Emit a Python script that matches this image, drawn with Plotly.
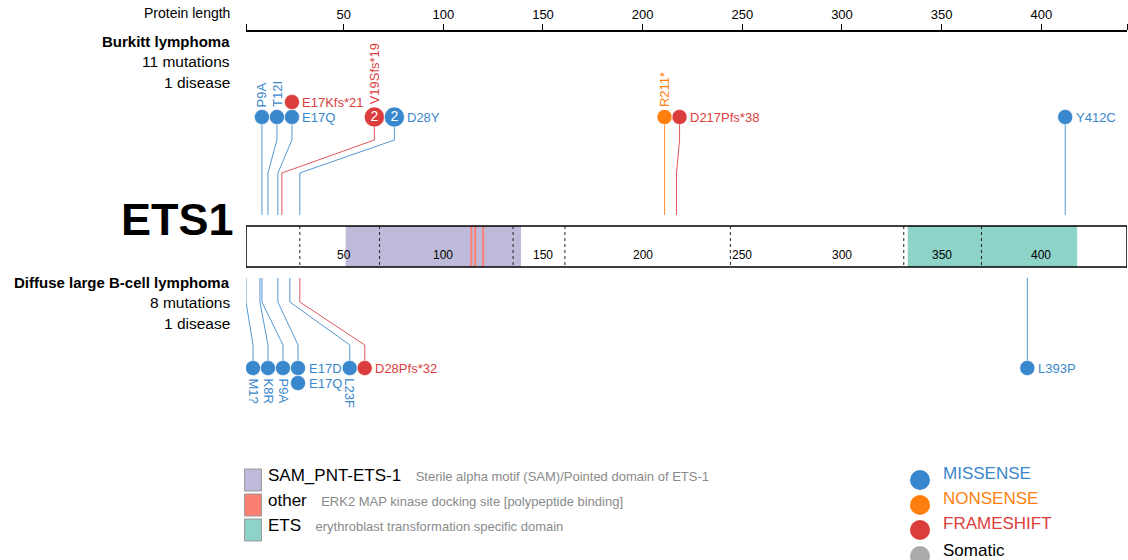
import plotly.graph_objects as go

# ---------------- data ----------------
gene = "ETS1"
protein_length = 441
axis_ticks = [50, 100, 150, 200, 250, 300, 350, 400]

domain_names = ["SAM_PNT-ETS-1", "other", "ETS"]
domain_descriptions = [
    "Sterile alpha motif (SAM)/Pointed domain of ETS-1",
    "ERK2 MAP kinase docking site [polypeptide binding]",
    "erythroblast transformation specific domain",
]
domain_colors = ["#bebada", "#fb8072", "#8dd3c7"]
sam_range = [51, 139]
erk2_sites = [114, 116, 120]
ets_range = [333, 418]
exon_boundaries = [28, 68, 135, 161, 244, 331, 370]

class_names = ["MISSENSE", "NONSENSE", "FRAMESHIFT"]
class_colors = ["#3987CC", "#FF7F0E", "#DB3D3D"]
origin_names = ["Somatic"]
origin_colors = ["#aaaaaa"]

bl_title = "Burkitt lymphoma"
bl_summary = ["11 mutations", "1 disease"]
bl_labels = ["P9A", "T12I", "E17Q", "E17Kfs*21", "V19Sfs*19", "D28Y", "R211*", "D217Pfs*38", "Y412C"]
bl_pos = [9, 12, 17, 17, 19, 28, 211, 217, 412]
bl_class = ["MISSENSE", "MISSENSE", "MISSENSE", "FRAMESHIFT", "FRAMESHIFT",
            "MISSENSE", "NONSENSE", "FRAMESHIFT", "MISSENSE"]
bl_count = [1, 1, 1, 1, 2, 2, 1, 1, 1]

dl_title = "Diffuse large B-cell lymphoma"
dl_summary = ["8 mutations", "1 disease"]
dl_labels = ["M1?", "K8R", "P9A", "E17D", "E17Q", "L23F", "D28Pfs*32", "L393P"]
dl_pos = [1, 8, 9, 17, 17, 23, 28, 393]
dl_class = ["MISSENSE", "MISSENSE", "MISSENSE", "MISSENSE", "MISSENSE",
            "MISSENSE", "FRAMESHIFT", "MISSENSE"]
dl_count = [1, 1, 1, 1, 1, 1, 1, 1]

# ---------------- geometry ----------------
W, H = 1128, 560
X0, X1 = 246, 1127                 # pixel span of the protein ruler
AX_MAX = protein_length + 2
PX = (X1 - X0) / (AX_MAX - 1)      # pixels per residue
BAR_TOP, BAR_BOT = 226, 267
FONT = "Liberation Sans, Arial, Helvetica, sans-serif"
LABEL_SIZE = 13
LABEL_PAD = 3.5
GAP = 1.0
COLOR = dict(zip(class_names, class_colors))


def to_px(aa):
    return X0 + (aa - 1) * PX


def to_aa(px):
    return 1 + (px - X0) / PX


def xp(px):
    return px / W


_CW = {"M": .833, "I": .278, "Q": .778, "D": .722, "T": .611, "L": .556, "F": .611,
       "R": .722, "f": .278, "s": .5, "*": .389, "t": .278, "r": .333, "?": .556}


def text_width(s, size):
    tot = 0.0
    for ch in s:
        if ch in _CW:
            tot += _CW[ch]
        elif ch.isupper():
            tot += .667
        else:
            tot += .556
    return tot * size


def radius(count):
    return 7 if count == 1 else 9.5


def layout_track(pos, labels, counts):
    """Group mutations by residue and spread the lollipop heads so they do not overlap."""
    order = sorted(range(len(pos)), key=lambda i: (pos[i], i))
    cols = []
    for i in order:
        if cols and cols[-1]["pos"] == pos[i]:
            cols[-1]["items"].append(i)
        else:
            cols.append({"pos": pos[i], "items": [i]})
    for k, c in enumerate(cols):
        nxt = cols[k + 1]["pos"] if k + 1 < len(cols) else None
        c["horizontal"] = len(c["items"]) > 1 or nxt is None or nxt - c["pos"] > 10
        c["r"] = max(radius(counts[i]) for i in c["items"])
    right = X0 - GAP
    for c in cols:
        head = max(to_px(c["pos"]), right + GAP + c["r"])
        c["head"] = head
        right = head + c["r"]
        if c["horizontal"]:
            right += LABEL_PAD + max(text_width(labels[i], LABEL_SIZE) for i in c["items"])
    return cols


fig = go.Figure()
annotations = []
shapes = []


def draw_track(pos, labels, cls, counts, up):
    cols = layout_track(pos, labels, counts)
    base = 117 if up else 368
    step = -15 if up else 15
    mx, my, mc, ms, mt = [], [], [], [], []
    for c in cols:
        hx = to_aa(c["head"])
        first = c["items"][0]
        if up:
            xs, ys = [hx, hx, c["pos"], c["pos"]], [base, 140, 173, 215]
        else:
            xs, ys = [c["pos"], c["pos"], hx, hx], [278, 302, 345, base]
        fig.add_trace(go.Scatter(x=xs, y=ys, mode="lines",
                                 line=dict(color=COLOR[cls[first]], width=1),
                                 opacity=0.85, hoverinfo="skip", showlegend=False))
        for j, i in enumerate(c["items"]):
            y = base + step * j
            r = radius(counts[i])
            mx.append(hx)
            my.append(y)
            mc.append(COLOR[cls[i]])
            ms.append(2 * r + 1)
            mt.append(str(counts[i]) if counts[i] > 1 else "")
            if c["horizontal"]:
                annotations.append(dict(x=hx, y=y, xref="x", yref="y", text=labels[i],
                                        showarrow=False, xanchor="left", yanchor="middle",
                                        xshift=r + LABEL_PAD - 2,
                                        font=dict(size=LABEL_SIZE, color=COLOR[cls[i]], family=FONT)))
            else:
                annotations.append(dict(x=hx, y=y - r - 1 if up else y + r + 1, xref="x", yref="y",
                                        text=labels[i], showarrow=False, textangle=-90 if up else 90,
                                        xanchor="center", yanchor="bottom" if up else "top",
                                        font=dict(size=LABEL_SIZE, color=COLOR[cls[i]], family=FONT)))
    return mx, my, mc, ms, mt


marks = [draw_track(bl_pos, bl_labels, bl_class, bl_count, True),
         draw_track(dl_pos, dl_labels, dl_class, dl_count, False)]
for mx, my, mc, ms, mt in marks:
    fig.add_trace(go.Scatter(x=mx, y=my, mode="markers+text", text=mt,
                             textposition="middle center",
                             textfont=dict(color="white", size=14, family=FONT),
                             marker=dict(color=mc, size=ms, opacity=1,
                                         line=dict(color="white", width=0.5)),
                             hoverinfo="skip", showlegend=False))

# ---------------- protein bar ----------------
shapes.append(dict(type="rect", xref="x", yref="y", x0=1, x1=AX_MAX, y0=BAR_TOP, y1=BAR_BOT,
                   fillcolor="white", line=dict(width=0), layer="below"))
shapes.append(dict(type="rect", xref="x", yref="y", x0=sam_range[0], x1=sam_range[1],
                   y0=BAR_TOP, y1=BAR_BOT, fillcolor=domain_colors[0], line=dict(width=0)))
shapes.append(dict(type="rect", xref="x", yref="y", x0=ets_range[0], x1=ets_range[1],
                   y0=BAR_TOP, y1=BAR_BOT, fillcolor=domain_colors[2], line=dict(width=0)))
for s in erk2_sites:
    shapes.append(dict(type="rect", xref="x", yref="y", x0=s - 0.5, x1=s + 0.5,
                       y0=BAR_TOP, y1=BAR_BOT, fillcolor=domain_colors[1], line=dict(width=0)))
for e in exon_boundaries:
    shapes.append(dict(type="line", xref="x", yref="y", x0=e, x1=e, y0=BAR_TOP, y1=BAR_BOT,
                       line=dict(color="#222", width=1, dash="3px,3px")))
shapes.append(dict(type="rect", xref="x", yref="y", x0=1, x1=AX_MAX, y0=BAR_TOP, y1=BAR_BOT,
                   fillcolor="rgba(0,0,0,0)", line=dict(color="black", width=1.5)))
for t in axis_ticks:
    annotations.append(dict(x=t, y=255, xref="x", yref="y", text=str(t), showarrow=False,
                            font=dict(size=12, color="black", family=FONT)))


# ---------------- left-hand titles ----------------
def left_text(y, text, size=15.5, bold=False):
    annotations.append(dict(x=xp(232), y=y, xref="paper", yref="y",
                            text=f"<b>{text}</b>" if bold else text, showarrow=False,
                            xanchor="right", yanchor="middle",
                            font=dict(size=size, color="black", family=FONT)))


left_text(13, "Protein length", size=14)
left_text(41, bl_title, size=15, bold=True)
left_text(61, bl_summary[0])
left_text(82, bl_summary[1])
annotations.append(dict(x=xp(236), y=219, xref="paper", yref="y", text=f"<b>{gene}</b>",
                        showarrow=False, xanchor="right", yanchor="middle",
                        font=dict(size=45, color="black", family=FONT)))
left_text(282, dl_title, size=15, bold=True)
left_text(302, dl_summary[0])
left_text(323, dl_summary[1])

# ---------------- domain legend ----------------
for k, (name, desc, col) in enumerate(zip(domain_names, domain_descriptions, domain_colors)):
    y0 = 469 + 25 * k
    shapes.append(dict(type="rect", xref="paper", yref="y", x0=xp(244.5), x1=xp(261.5),
                       y0=y0, y1=y0 + 22, fillcolor=col, line=dict(color="#9a9a9a", width=1)))
    annotations.append(dict(x=xp(266), y=y0 + 6.5, xref="paper", yref="y", showarrow=False,
                            xanchor="left", yanchor="middle",
                            text=f"{name}<span style='font-size:13px;color:#8a8a8a'>&nbsp;&nbsp;&nbsp;&nbsp;{desc}</span>",
                            font=dict(size=17, color="black", family=FONT)))

# ---------------- mutation class legend ----------------
for k, (name, col) in enumerate(zip(class_names, class_colors)):
    cy = 480 + 25 * k
    shapes.append(dict(type="circle", xref="paper", yref="y", x0=xp(910), x1=xp(930),
                       y0=cy - 10, y1=cy + 10, fillcolor=col, line=dict(width=0)))
    annotations.append(dict(x=xp(941), y=cy - 6.5, xref="paper", yref="y", text=name,
                            showarrow=False, xanchor="left", yanchor="middle",
                            font=dict(size=17, color=col, family=FONT)))
shapes.append(dict(type="circle", xref="paper", yref="y", x0=xp(910), x1=xp(930),
                   y0=546, y1=566, fillcolor=origin_colors[0], line=dict(width=0)))
annotations.append(dict(x=xp(941), y=550, xref="paper", yref="y", text=origin_names[0],
                        showarrow=False, xanchor="left", yanchor="middle",
                        font=dict(size=17, color="black", family=FONT)))

# ---------------- axes ----------------
tickvals = [1] + axis_ticks + [AX_MAX]
ticktext = [""] + [str(t) for t in axis_ticks] + [""]
fig.update_layout(
    width=W, height=H, margin=dict(l=0, r=0, t=0, b=0),
    paper_bgcolor="white", plot_bgcolor="white",
    xaxis=dict(domain=[xp(X0), xp(X1)], range=[1, AX_MAX], side="top", anchor="free",
               position=1 - 31 / H, showline=True, linecolor="black", linewidth=1.5,
               ticks="outside", ticklen=6, tickwidth=1, tickcolor="black",
               tickvals=tickvals, ticktext=ticktext, showgrid=False, zeroline=False,
               tickfont=dict(size=13, color="black", family=FONT)),
    yaxis=dict(domain=[0, 1], range=[H, 0], visible=False),
    annotations=annotations, shapes=shapes,
    font=dict(family=FONT),
)
fig.write_html("out.html")
